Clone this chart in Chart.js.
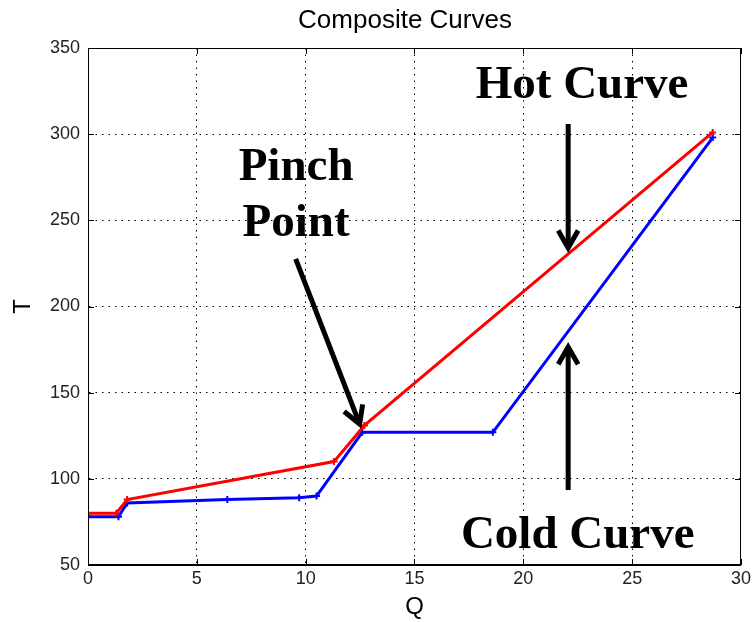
<!DOCTYPE html>
<html>
<head>
<meta charset="utf-8">
<script src="https://cdn.jsdelivr.net/npm/chart.js@4/dist/chart.umd.min.js"></script>
<style>
    html, body { margin: 0; padding: 0; background: #fff; }
    #wrap { width: 754px; height: 622px; }
</style>
</head>
<body>
<div id="wrap"><canvas id="chart"></canvas></div>
<script>
// composite curves
const hotQ = [0, 1.3, 1.8, 11.3, 12.7, 28.7];
const hotT = [80, 80, 88, 110, 131, 301];
const coldQ = [0, 1.4, 1.8, 6.4, 9.7, 10.5, 12.6, 18.6, 28.7];
const coldT = [78, 78, 86, 88, 89, 90, 127, 127, 298];

const xTicks = [0, 5, 10, 15, 20, 25, 30];
const yTicks = [50, 100, 150, 200, 250, 300, 350];

// labels + arrows, in data units (Q, T)
const labels = [
    { text: 'Hot Curve', q: 22.7, t: 321 },
    { text: 'Pinch', q: 9.56, t: 273.4 },
    { text: 'Point', q: 9.56, t: 240.9 },
    { text: 'Cold Curve', q: 22.5, t: 59.9 }
];
const arrows = [
    { from: [22.06, 305.9], to: [22.06, 234] },
    { from: [22.06, 93.5], to: [22.06, 176.5] },
    { from: [9.54, 227.6], to: [12.48, 131.8] }
];

const toPoints = (qs, ts) => qs.map((q, i) => ({ x: q, y: ts[i] }));

const boxAndNotes = {
    id: 'boxAndNotes',
    afterDatasetsDraw(chart) {
        const { ctx, chartArea: a, scales: { x, y } } = chart;
        ctx.save();
        // axes box
        ctx.strokeStyle = '#000';
        ctx.lineWidth = 1;
        ctx.strokeRect(a.left + 0.5, a.top + 0.5, a.right - a.left - 1, a.bottom - a.top - 1);
        // inner tick marks, matlab style
        ctx.beginPath();
        xTicks.forEach(v => {
            const px = Math.round(x.getPixelForValue(v)) + 0.5;
            ctx.moveTo(px, a.bottom); ctx.lineTo(px, a.bottom - 6);
            ctx.moveTo(px, a.top); ctx.lineTo(px, a.top + 6);
        });
        yTicks.forEach(v => {
            const py = Math.round(y.getPixelForValue(v)) + 0.5;
            ctx.moveTo(a.left, py); ctx.lineTo(a.left + 6, py);
            ctx.moveTo(a.right, py); ctx.lineTo(a.right - 6, py);
        });
        ctx.stroke();

        // title
        ctx.fillStyle = '#000';
        ctx.font = '26px "Liberation Sans", Arial, sans-serif';
        ctx.textAlign = 'center';
        ctx.textBaseline = 'alphabetic';
        ctx.fillText('Composite Curves', 405, 28);

        // annotation text
        ctx.font = 'bold 47px "Liberation Serif", "Times New Roman", serif';
        labels.forEach(l => {
            ctx.fillText(l.text, x.getPixelForValue(l.q), y.getPixelForValue(l.t));
        });

        // arrows
        ctx.lineWidth = 5;
        ctx.lineCap = 'butt';
        ctx.lineJoin = 'miter';
        arrows.forEach(ar => {
            const x0 = x.getPixelForValue(ar.from[0]), y0 = y.getPixelForValue(ar.from[1]);
            const x1 = x.getPixelForValue(ar.to[0]), y1 = y.getPixelForValue(ar.to[1]);
            const ang = Math.atan2(y1 - y0, x1 - x0);
            ctx.beginPath();
            ctx.moveTo(x0, y0);
            ctx.lineTo(x1 - 2 * Math.cos(ang), y1 - 2 * Math.sin(ang));
            ctx.stroke();
            const h = 20, spread = 0.52;
            ctx.beginPath();
            ctx.moveTo(x1 - h * Math.cos(ang - spread), y1 - h * Math.sin(ang - spread));
            ctx.lineTo(x1, y1);
            ctx.lineTo(x1 - h * Math.cos(ang + spread), y1 - h * Math.sin(ang + spread));
            ctx.stroke();
        });
        ctx.restore();
    }
};

const gridStyle = {
    color: '#000',
    lineWidth: 1,
    drawTicks: false
};

new Chart(document.getElementById('chart'), {
    type: 'line',
    data: {
        datasets: [
            {
                label: 'Hot',
                data: toPoints(hotQ, hotT),
                borderColor: '#ff0000',
                backgroundColor: '#ff0000',
                borderWidth: 3,
                pointStyle: 'cross',
                pointRadius: 3.5,
                pointBorderWidth: 2,
                tension: 0
            },
            {
                label: 'Cold',
                data: toPoints(coldQ, coldT),
                borderColor: '#0000ff',
                backgroundColor: '#0000ff',
                borderWidth: 3,
                pointStyle: 'cross',
                pointRadius: 3.5,
                pointBorderWidth: 2,
                tension: 0
            }
        ]
    },
    options: {
        responsive: true,
        maintainAspectRatio: false,
        animation: false,
        layout: { padding: { top: 48, right: 12, left: 0, bottom: 0 } },
        plugins: {
            legend: { display: false },
            tooltip: { enabled: false }
        },
        scales: {
            x: {
                type: 'linear',
                min: 0,
                max: 30,
                afterBuildTicks: s => { s.ticks = xTicks.map(v => ({ value: v })); },
                afterFit: s => { s.height = 57; },
                grid: gridStyle,
                border: { display: true, color: '#000', dash: [1.5, 5] },
                ticks: {
                    padding: 3,
                    color: '#222',
                    font: { family: '"Liberation Sans", Arial, sans-serif', size: 18 },
                    maxRotation: 0
                },
                title: {
                    display: true,
                    text: 'Q',
                    color: '#000',
                    font: { family: '"Liberation Sans", Arial, sans-serif', size: 24 },
                    padding: { top: 0, bottom: 0 }
                }
            },
            y: {
                type: 'linear',
                min: 50,
                max: 350,
                afterBuildTicks: s => { s.ticks = yTicks.map(v => ({ value: v })); },
                afterFit: s => { s.width = 88; },
                grid: gridStyle,
                border: { display: true, color: '#000', dash: [1.5, 5] },
                ticks: {
                    padding: 8,
                    color: '#222',
                    font: { family: '"Liberation Sans", Arial, sans-serif', size: 18 }
                },
                title: {
                    display: true,
                    text: 'T',
                    color: '#000',
                    font: { family: '"Liberation Sans", Arial, sans-serif', size: 24 },
                    padding: { top: 9, bottom: 0 }
                }
            }
        }
    },
    plugins: [boxAndNotes]
});
</script>
</body>
</html>
